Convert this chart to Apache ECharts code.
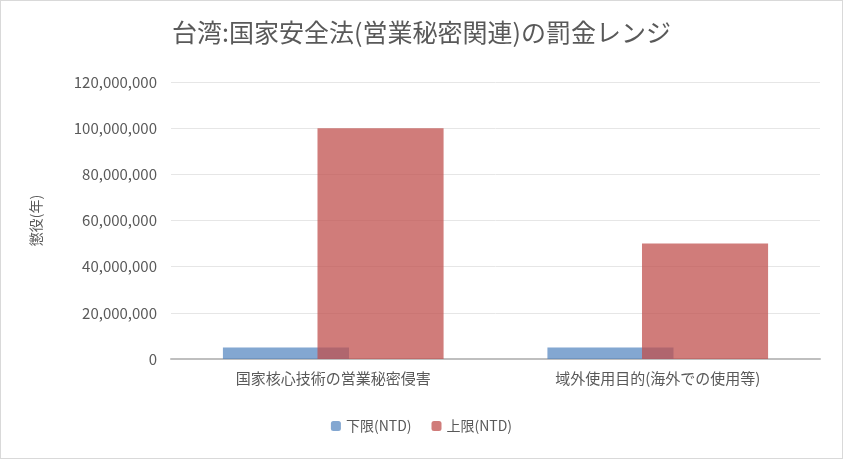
<!DOCTYPE html>
<html>
<head>
<meta charset="utf-8">
<script src="https://cdn.jsdelivr.net/npm/echarts@6/dist/echarts.min.js"></script>
<style>
html,body{margin:0;padding:0;background:#fff;}
#main{width:841px;height:457px;border:1px solid #d9d9d9;}
</style>
</head>
<body>
<div id="main"></div>
<script>
var categories = ['国家核心技術の営業秘密侵害', '域外使用目的(海外での使用等)'];
var lowerLimit = [5000000, 5000000];
var upperLimit = [100000000, 50000000];
var yTicks = [0, 20000000, 40000000, 60000000, 80000000, 100000000, 120000000];

var font = '"Noto Sans CJK JP", "Noto Sans", sans-serif';
var chart = echarts.init(document.getElementById('main'));
chart.setOption({
    animation: false,
    textStyle: { fontFamily: font },
    title: {
        text: '台湾:国家安全法(営業秘密関連)の罰金レンジ',
        left: 'center', top: 14,
        textStyle: { fontSize: 25, fontWeight: 'normal', color: '#595959', fontFamily: font }
    },
    legend: {
        bottom: 20, itemWidth: 10, itemHeight: 10, itemGap: 20,
        textStyle: { fontSize: 14, color: '#595959' },
        data: ['下限(NTD)', '上限(NTD)']
    },
    grid: { left: 170, right: 22, top: 81, bottom: 99 },
    xAxis: {
        type: 'category', data: categories,
        axisLine: { lineStyle: { color: '#bfbfbf', width: 2 } },
        axisTick: { show: false },
        axisLabel: { fontSize: 15, color: '#595959', margin: 12 }
    },
    yAxis: {
        type: 'value', min: yTicks[0], max: yTicks[yTicks.length - 1], interval: 20000000,
        name: '懲役(年)', nameLocation: 'middle', nameGap: 128,
        nameTextStyle: { fontSize: 14, color: '#595959' },
        axisLine: { show: false }, axisTick: { show: false },
        splitLine: { lineStyle: { color: '#e6e6e6' } },
        axisLabel: {
            fontSize: 15, color: '#595959', margin: 14,
            formatter: function (v) { return v.toLocaleString('en-US'); }
        }
    },
    series: [
        {
            name: '下限(NTD)', type: 'bar', data: lowerLimit,
            barGap: '-25%', barCategoryGap: '32%',
            itemStyle: { color: 'rgba(79,129,189,0.7)' }
        },
        {
            name: '上限(NTD)', type: 'bar', data: upperLimit,
            barGap: '-25%', barCategoryGap: '32%',
            itemStyle: { color: 'rgba(192,80,77,0.75)' }
        }
    ]
});
</script>
</body>
</html>
